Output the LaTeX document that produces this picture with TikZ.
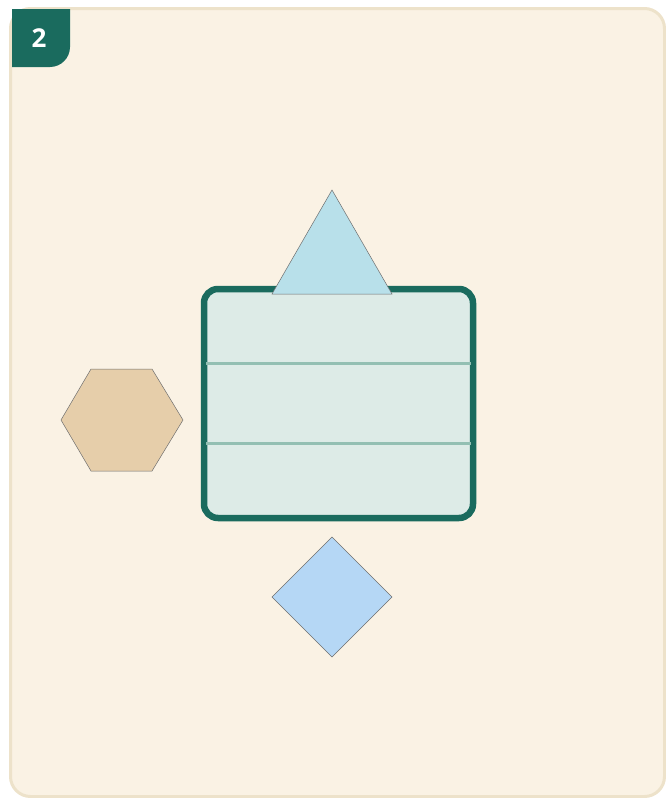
\documentclass[tikz,border=0pt]{standalone}
\usepackage{fontspec}
\setmainfont{Open Sans}
\usetikzlibrary{arrows.meta}
\definecolor{paper}{HTML}{FAF2E4}
\definecolor{rim}{HTML}{EDE2CA}
\definecolor{pine}{HTML}{1A6B5E}
\definecolor{mint}{HTML}{DDEBE7}
\definecolor{sage}{HTML}{93BFB3}
\definecolor{sky}{HTML}{B8E0EA}
\definecolor{sand}{HTML}{E6CEAA}
\definecolor{azure}{HTML}{B5D7F5}
\definecolor{edge}{HTML}{6E6E6E}

\begin{document}
\begin{tikzpicture}[x=1pt,y=-1pt]
  \tikzset{
    tarjeta/.style={draw=rim,fill=paper,line width=3pt,rounded corners=20pt},
    caja/.style={draw=pine,fill=mint,line width=6.5pt,rounded corners=14pt},
    raya/.style={draw=sage,line width=3pt},
    figura/.style={draw=edge,line width=0.5pt,line join=miter}
  }
  \useasboundingbox[fill=white] (0,0) rectangle (666,798);
  \draw[tarjeta] (10.5,8.5) rectangle (664.5,796.5);
  \fill[pine] (12,9) -- (70,9) -- (70,47) .. controls (70,58) and (61,67) .. (50,67) -- (12,67) -- cycle;
  \node[text=white,font=\bfseries\fontsize{26}{26}\selectfont] (num) at (39,38) {2};
  \draw[caja] (204,289) rectangle (473,518);
  \draw[raya] (206,363) -- (471,363);
  \draw[raya] (206,443) -- (471,443);
  \draw[figura,fill=sky] (332,190) -- (392,294) -- (272,294) -- cycle;
  \draw[figura,fill=sand] (61,420) -- (91,369) -- (152,369) -- (183,420) -- (152,471) -- (91,471) -- cycle;
  \draw[figura,fill=azure] (332,537) -- (392,597) -- (332,657) -- (272,597) -- cycle;
\end{tikzpicture}
\end{document}
